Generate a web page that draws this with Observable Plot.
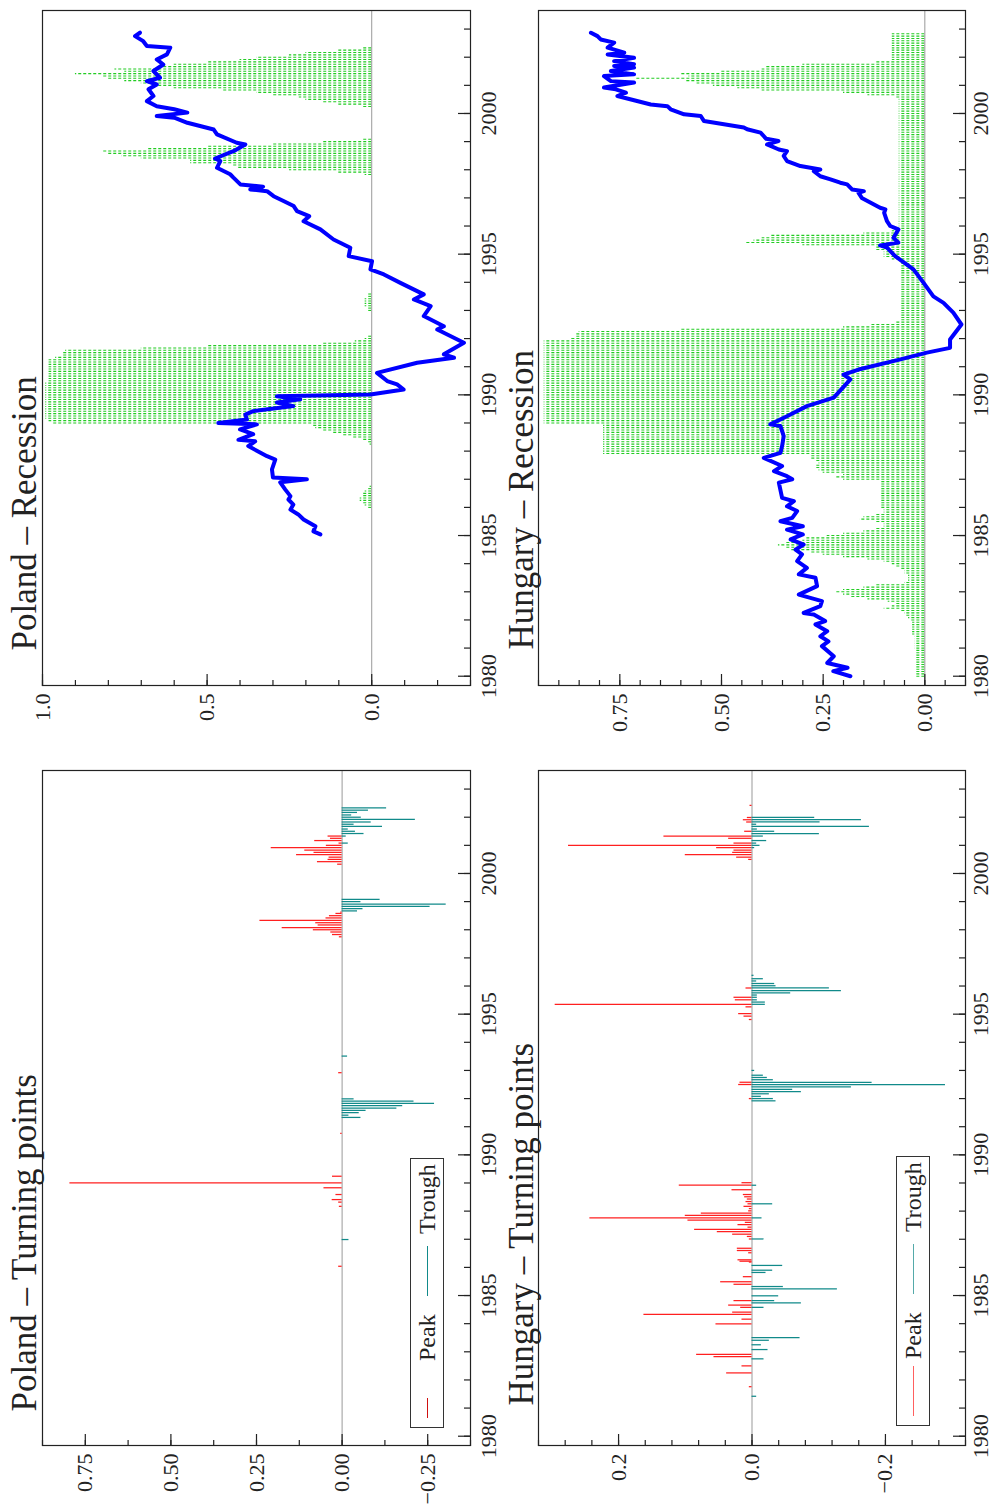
<!DOCTYPE html>
<html><head><meta charset="utf-8">
<script src="https://cdn.jsdelivr.net/npm/d3@7"></script>
<script src="https://cdn.jsdelivr.net/npm/@observablehq/plot@0.6"></script>
<style>
html,body{margin:0;padding:0;background:#fff;overflow:hidden;width:993px;height:1506px;}
#fig{position:absolute;left:0;top:0;width:1506px;height:993px;transform-origin:0 0;transform:translateY(1506px) rotate(-90deg);font-family:'Liberation Serif',serif;color:#222;}
#fig svg{position:absolute;}
#fig svg text{font-family:'Liberation Serif',serif;}
.legend{position:absolute;border:1.2px solid #333;background:#fff;box-sizing:border-box;height:34px;width:270px;}
.legend .sw{position:absolute;top:16px;height:0;border-top:1.4px solid;}
.legend .lb{position:absolute;top:0;font-size:24px;line-height:32px;white-space:nowrap;}
</style></head><body><div id="fig"></div><script>
// ---------- axes ----------
const yearMinorTicks = d3.range(1980, 2004);
const yearLabels = [1980, 1985, 1990, 1995, 2000];
const titles = ["Poland \u2013 Turning points", "Poland \u2013 Recession", "Hungary \u2013 Turning points", "Hungary \u2013 Recession"];
const legendLabels = ["Peak", "Trough"];

// ---------- Poland turning points ----------
const plPeakT = [1986.04,1988.17,1988.32,1988.41,1988.59,1988.83,1989.0,1989.24,1990.76,1992.92,
  1997.75,1997.83,1997.92,1998.0,1998.08,1998.17,1998.25,1998.33,1998.42,1998.5,1998.58,1998.63,
  2000.33,2000.42,2000.5,2000.58,2000.67,2000.75,2000.83,2000.92,2001.0,2001.08,2001.17,2001.25,2001.33];
const plPeakV = [0.01,0.008,0.01,0.029,0.018,0.053,0.795,0.028,0.004,0.01,
  0.008,0.028,0.033,0.084,0.175,0.07,0.077,0.24,0.047,0.037,0.018,0.004,
  0.013,0.072,0.041,0.038,0.133,0.082,0.109,0.207,0.046,0.009,0.08,0.034,0.041];
const plTroughT = [1986.99,1991.33,1991.41,1991.5,1991.58,1991.66,1991.75,1991.83,1991.91,1991.99,1993.51,
  1998.67,1998.75,1998.83,1998.91,1999.0,1999.08,
  2001.08,2001.33,2001.42,2001.5,2001.58,2001.67,2001.75,2001.83,2001.92,2002.0,2002.08,2002.17,2002.25,2002.33];
const plTroughV = [-0.02,-0.055,-0.02,-0.05,-0.07,-0.16,-0.177,-0.27,-0.21,-0.035,-0.016,
  -0.045,-0.061,-0.257,-0.304,-0.055,-0.111,
  -0.018,-0.012,-0.064,-0.039,-0.018,-0.118,-0.035,-0.085,-0.214,-0.056,-0.028,-0.045,-0.077,-0.13];

// ---------- Hungary turning points ----------
const huPeakT = [1981.76,1982.25,1982.5,1982.83,1982.91,1983.99,1984.16,1984.33,1984.41,1984.58,1984.66,1984.82,
  1985.4,1985.49,1985.67,1986.19,1986.22,1986.27,1986.52,1986.6,1986.68,1987.01,1987.1,1987.18,1987.27,1987.35,
  1987.43,1987.52,1987.6,1987.68,1987.76,1987.85,1987.93,1988.01,1988.09,1988.17,1988.26,1988.34,1988.43,1988.51,
  1988.59,1988.76,1988.92,1989.01,1992.0,1992.5,1992.58,1994.81,1994.93,1995.02,1995.26,1995.35,1995.51,1995.6,
  1995.93,2000.5,2000.58,2000.67,2000.75,2000.83,2000.92,2001.0,2001.08,2001.25,2001.33,2001.5,2001.83,2001.91,2001.99,2002.42];
const huPeakV = [0.004,0.038,0.015,0.057,0.083,0.054,0.015,0.162,0.029,0.017,0.035,0.027,
  0.027,0.047,0.013,0.004,0.018,0.021,0.005,0.022,0.022,0.004,0.007,0.029,0.052,0.086,
  0.006,0.021,0.01,0.096,0.243,0.10,0.076,0.005,0.004,0.012,0.006,0.009,0.007,0.011,
  0.013,0.03,0.109,0.015,0.004,0.02,0.018,0.004,0.012,0.02,0.009,0.295,0.025,0.027,
  0.009,0.005,0.023,0.10,0.029,0.027,0.053,0.275,0.027,0.035,0.132,0.011,0.008,0.013,0.007,0.003];
const huTroughT = [1981.42,1982.75,1983.08,1983.25,1983.41,1983.5,1984.58,1984.74,1984.82,1984.99,1985.24,1985.32,
  1985.82,1985.9,1986.07,1987.01,1987.76,1988.26,1988.92,1991.92,1992.0,1992.08,1992.17,1992.25,1992.33,1992.42,
  1992.5,1992.58,1992.67,1992.75,1992.83,1993.0,1995.35,1995.43,1995.51,1995.6,1995.68,1995.76,1995.84,1995.93,
  1996.01,1996.09,1996.18,1996.26,1996.38,2000.92,2001.0,2001.08,2001.17,2001.33,2001.42,2001.5,2001.58,2001.67,
  2001.75,2001.83,2001.91,2001.99];
const huTroughV = [-0.007,-0.018,-0.024,-0.014,-0.026,-0.072,-0.018,-0.074,-0.034,-0.04,-0.128,-0.047,
  -0.021,-0.031,-0.046,-0.018,-0.015,-0.031,-0.007,-0.036,-0.032,-0.014,-0.026,-0.074,-0.061,-0.149,
  -0.29,-0.18,-0.032,-0.023,-0.017,-0.004,-0.02,-0.02,-0.008,-0.008,-0.008,-0.058,-0.134,-0.116,
  -0.036,-0.034,-0.007,-0.017,-0.003,-0.004,-0.012,-0.007,-0.022,-0.017,-0.101,-0.034,-0.008,-0.176,
  -0.007,-0.102,-0.164,-0.094];

// ---------- Poland recession ----------
const plProbStart = 1985; // monthly
const plProb = [
  0,0,0,0,0,0,0,0,0,0,0,0,
  0.01,0.02,0.03,0.035,0.035,0.03,0.025,0.02,0.01,0.005,0,0,
  0,0,0,0,0,0,0,0,0,0,0,0,
  0,0,0,0.005,0.01,0.03,0.06,0.09,0.12,0.15,0.17,0.18,
  0.97,0.98,0.99,0.99,0.99,0.99,0.99,0.99,0.99,0.99,0.99,0.99,
  0.99,0.99,0.99,0.99,0.99,0.99,0.98,0.98,0.98,0.98,0.98,0.98,
  0.98,0.98,0.98,0.98,0.96,0.94,0.94,0.93,0.7,0.5,0.15,0.05,
  0.02,0.01,0,0,0,0,0,0,0,0,0,0,
  0.01,0.015,0.02,0.02,0.02,0.02,0.015,0.01,0,0,0,0,
  0,0,0,0,0,0,0,0,0,0,0,0,
  0,0,0,0,0,0,0,0,0,0,0,0,
  0,0,0,0,0,0,0,0,0,0,0,0,
  0,0,0,0,0,0,0,0,0,0,0.02,0.1,
  0.25,0.41,0.42,0.55,0.55,0.7,0.76,0.8,0.82,0.68,0.5,0.3,
  0.15,0.03,0,0,0,0,0,0,0,0,0,0,
  0,0,0,0.03,0.1,0.15,0.2,0.22,0.3,0.35,0.45,0.6,
  0.66,0.7,0.75,0.8,0.82,0.9,0.75,0.78,0.65,0.6,0.5,0.4,
  0.35,0.25,0.2,0.1,0.03,0,0,0,0,0,0
];
const plLineT = [1985.04,1985.15,1985.33,1985.57,1985.75,1985.92,1986.1,1986.28,1986.4,1986.64,1986.89,1987.0,1987.06,
  1987.35,1987.7,1987.82,1988.18,1988.35,1988.4,1988.6,1988.77,1988.95,1989.0,1989.12,1989.3,1989.42,1989.6,1989.73,
  1989.84,1989.95,1990.01,1990.19,1990.37,1990.49,1990.78,1991.14,1991.32,1991.44,1991.85,1992.32,1992.44,1992.8,
  1993.15,1993.39,1993.57,1993.98,1994.28,1994.46,1994.75,1994.93,1995.23,1995.52,1995.88,1996.17,1996.35,1996.53,
  1996.71,1996.89,1997.06,1997.24,1997.3,1997.4,1997.48,1997.72,1997.84,1998.07,1998.31,1998.4,1998.66,1998.9,
  1998.96,1999.26,1999.43,1999.67,1999.85,1999.91,2000.03,2000.15,2000.26,2000.44,2000.62,2000.86,2001.03,2001.15,
  2001.27,2001.51,2001.74,2001.92,2002.1,2002.34,2002.4,2002.57,2002.75,2002.87];
const plLineV = [0.156,0.177,0.171,0.207,0.223,0.247,0.238,0.253,0.247,0.263,0.278,0.197,0.30,
  0.303,0.293,0.318,0.375,0.354,0.405,0.36,0.40,0.349,0.466,0.379,0.384,0.36,0.238,0.288,
  0.217,0.288,0.004,-0.097,-0.077,-0.047,-0.016,-0.138,-0.25,-0.219,-0.28,-0.199,-0.219,-0.158,
  -0.179,-0.128,-0.158,-0.087,-0.037,0.004,-0.001,0.07,0.065,0.116,0.156,0.207,0.19,0.227,
  0.237,0.268,0.298,0.318,0.369,0.33,0.399,0.42,0.43,0.47,0.46,0.476,0.42,0.384,
  0.41,0.47,0.48,0.56,0.60,0.653,0.56,0.60,0.653,0.683,0.663,0.678,0.653,0.683,
  0.643,0.663,0.633,0.653,0.622,0.612,0.683,0.694,0.719,0.704];

// ---------- Hungary recession ----------
const huProbStart = 1980; // monthly
const huProb = [
  0.02,0.02,0.02,0.02,0.02,0.02,0.02,0.02,0.02,0.02,0.02,0.02,
  0.025,0.025,0.025,0.025,0.025,0.025,0.03,0.03,0.03,0.03,0.03,0.03,
  0.035,0.04,0.045,0.05,0.06,0.1,0.08,0.07,0.09,0.14,0.18,0.2,
  0.22,0.2,0.15,0.12,0.05,0.04,0.04,0.04,0.05,0.05,0.06,0.07,
  0.08,0.1,0.14,0.2,0.25,0.28,0.33,0.34,0.36,0.34,0.3,0.29,
  0.24,0.2,0.15,0.12,0.1,0.1,0.12,0.16,0.15,0.12,0.1,0.1,
  0.11,0.11,0.11,0.11,0.11,0.11,0.11,0.11,0.11,0.11,0.11,0.11,
  0.2,0.22,0.2,0.25,0.26,0.27,0.27,0.26,0.27,0.28,0.28,0.79,
  0.79,0.79,0.79,0.79,0.79,0.79,0.79,0.79,0.79,0.79,0.79,0.79,
  0.936,0.936,0.936,0.936,0.936,0.936,0.936,0.936,0.936,0.936,0.936,0.936,
  0.936,0.936,0.936,0.936,0.936,0.936,0.936,0.936,0.936,0.936,0.936,0.936,
  0.936,0.936,0.936,0.936,0.936,0.936,0.936,0.936,0.936,0.936,0.936,0.936,
  0.87,0.86,0.86,0.85,0.6,0.2,0.13,0.07,0.06,0.06,0.06,0.06,
  0.06,0.06,0.06,0.06,0.06,0.06,0.06,0.06,0.06,0.06,0.06,0.06,
  0.06,0.06,0.06,0.06,0.06,0.06,0.06,0.06,0.06,0.06,0.08,0.1,
  0.1,0.1,0.12,0.12,0.3,0.44,0.42,0.4,0.38,0.15,0.08,0.07,
  0.063,0.063,0.063,0.063,0.063,0.063,0.063,0.063,0.063,0.063,0.063,0.063,
  0.063,0.063,0.063,0.063,0.063,0.063,0.063,0.063,0.063,0.063,0.063,0.063,
  0.063,0.063,0.063,0.063,0.063,0.063,0.063,0.063,0.063,0.063,0.063,0.063,
  0.063,0.063,0.063,0.063,0.063,0.063,0.063,0.063,0.063,0.063,0.063,0.063,
  0.063,0.063,0.063,0.063,0.063,0.063,0.063,0.07,0.14,0.2,0.4,0.46,
  0.52,0.56,0.59,0.71,0.58,0.6,0.5,0.4,0.39,0.3,0.12,0.08,
  0.08,0.08,0.08,0.08,0.08,0.08,0.08,0.08,0.08,0.08,0.08
];
const huLineT = [1980.0,1980.18,1980.3,1980.47,1980.71,1981.07,1981.24,1981.42,1981.6,1981.84,1981.96,1982.19,1982.25,
  1982.49,1982.67,1982.9,1983.2,1983.5,1983.62,1983.85,1984.09,1984.33,1984.5,1984.68,1984.86,1985.04,1985.21,1985.33,
  1985.51,1985.63,1985.87,1986.04,1986.22,1986.34,1986.88,1987.0,1987.11,1987.29,1987.47,1987.76,1987.94,1988.18,
  1988.53,1988.89,1988.95,1989.24,1989.6,1989.9,1990.55,1990.72,1990.9,1991.26,1991.5,1991.67,1991.97,1992.5,
  1992.92,1993.27,1993.5,1993.98,1994.46,
  1994.93,1995.23,1995.31,1995.41,1995.58,1995.88,1996.0,1996.17,1996.47,1996.59,1996.65,1997.0,1997.18,1997.24,
  1997.3,1997.48,1997.54,1997.66,1997.77,1997.95,1998.01,1998.13,1998.31,1998.49,1998.66,1998.72,1998.9,1999.02,
  1999.1,1999.32,1999.44,1999.5,1999.73,1999.91,1999.97,2000.15,2000.26,2000.32,2000.62,2000.74,2000.86,2000.92,
  2001.1,2001.15,2001.33,2001.39,2001.51,2001.63,2001.69,2001.75,2001.86,2001.98,2002.1,2002.16,2002.34,2002.52,
  2002.63,2002.75,2002.87];
const huLineV = [0.183,0.225,0.19,0.24,0.224,0.253,0.237,0.257,0.24,0.269,0.245,0.273,0.298,
  0.257,0.253,0.31,0.265,0.269,0.31,0.29,0.314,0.302,0.318,0.298,0.33,0.30,0.339,0.30,
  0.355,0.326,0.314,0.339,0.322,0.351,0.359,0.326,0.339,0.371,0.351,0.396,0.355,0.351,
  0.347,0.355,0.38,0.339,0.29,0.224,0.183,0.20,0.163,0.06,-0.005,-0.062,-0.062,-0.09,
  -0.07,-0.046,-0.021,0.003,0.028,
  0.073,0.093,0.11,0.065,0.077,0.065,0.085,0.093,0.10,0.097,0.11,0.155,0.163,0.15,
  0.179,0.191,0.208,0.232,0.257,0.273,0.257,0.306,0.339,0.347,0.339,0.359,0.388,0.36,
  0.39,0.404,0.437,0.445,0.543,0.551,0.592,0.625,0.633,0.674,0.756,0.735,0.76,0.789,
  0.715,0.772,0.789,0.715,0.772,0.715,0.764,0.715,0.764,0.715,0.78,0.739,0.78,0.764,
  0.797,0.805,0.821];

// ---------- build ----------
const fig = document.getElementById("fig");
const xDomain = [1979.67, 2003.66];
const zip = (T, V) => T.map((t, i) => ({t, v: V[i]}));
const monthly = (start, V) => V.map((v, i) => ({t: start + i / 12, v}));
const INK = "#222";
const SERIF = "Liberation Serif";

function panel(o) {
  const marks = [
    ...o.marks,
    Plot.frame({stroke: INK, strokeWidth: 1.2}),
    Plot.axisX({anchor: "bottom", ticks: yearMinorTicks, tickSize: -6, tickFormat: () => "", label: null, stroke: INK, strokeWidth: 1.2}),
    Plot.axisX({anchor: "bottom", ticks: yearLabels, tickSize: -12, tickFormat: () => "", label: null, stroke: INK, strokeWidth: 1.2}),
    Plot.axisX({anchor: "bottom", ticks: yearLabels, tickSize: 0, tickPadding: o.xPad, tickFormat: d => String(d), label: null, fill: INK, fontSize: 22, fontFamily: SERIF}),
    Plot.axisY({anchor: "left", ticks: o.yMinor, tickSize: -6, tickFormat: () => "", label: null, stroke: INK, strokeWidth: 1.2}),
    Plot.axisY({anchor: "left", ticks: o.yMajor, tickSize: -12, tickFormat: () => "", label: null, stroke: INK, strokeWidth: 1.2}),
    Plot.axisY({anchor: "left", ticks: o.yMajor, tickSize: 0, tickPadding: 8, tickFormat: o.yFmt, label: null, fill: INK, fontSize: 22, fontFamily: SERIF}),
    Plot.text([o.title], {frameAnchor: "top-left", text: d => d, dx: o.titleDx, dy: o.titleDy, lineAnchor: "bottom", textAnchor: "start", fontSize: 35, fontFamily: SERIF, fill: INK})
  ];
  const svg = Plot.plot({
    width: o.width, height: o.height,
    marginLeft: o.mL, marginRight: o.mR, marginTop: o.mT, marginBottom: o.mB,
    x: {domain: xDomain, label: null},
    y: {domain: o.yDomain, label: null},
    style: {fontFamily: "'Liberation Serif', serif", fontSize: "22px", background: "transparent", color: INK, overflow: "visible"},
    marks
  });
  svg.style.left = o.left + "px";
  svg.style.top = o.top + "px";
  fig.appendChild(svg);
}

function tpMarks(peaks, troughs) {
  return [
    Plot.ruleY([0], {stroke: "#999", strokeWidth: 1}),
    Plot.ruleX(peaks, {x: "t", y1: 0, y2: "v", stroke: "#ff2020", strokeWidth: 1.25}),
    Plot.ruleX(troughs, {x: "t", y1: 0, y2: "v", stroke: "#118a8a", strokeWidth: 1.25})
  ];
}
function recMarks(prob, line) {
  return [
    Plot.ruleX(prob.filter(d => d.v > 0), {x: "t", y1: 0, y2: "v", stroke: "#22cc22", strokeWidth: 1.1, strokeDasharray: "3,2"}),
    Plot.ruleY([0], {stroke: "#999", strokeWidth: 1}),
    Plot.line(line, {x: "t", y: "v", stroke: "#0000ff", strokeWidth: 4, strokeLinejoin: "round", strokeLinecap: "round"})
  ];
}

const fmt2 = d3.format(".2f"), fmt1 = d3.format(".1f");

// Poland - Turning points (landscape top-left)
panel({left: 0, top: 0, width: 753, height: 496, mL: 60, mR: 18, mT: 42, mB: 26, xPad: 10,
  yDomain: [-0.375, 0.875], yMinor: d3.range(-0.375, 0.876, 0.125), yMajor: [-0.25, 0, 0.25, 0.5, 0.75], yFmt: fmt2,
  title: titles[0], titleDx: 34, titleDy: -7,
  marks: tpMarks(zip(plPeakT, plPeakV), zip(plTroughT, plTroughV))});
// Poland - Recession (landscape top-right)
panel({left: 753, top: 0, width: 753, height: 496, mL: 67, mR: 11, mT: 42, mB: 26, xPad: 10,
  yDomain: [-0.3, 1.0], yMinor: d3.range(-0.3, 1.001, 0.1), yMajor: [0, 0.5, 1.0], yFmt: fmt1,
  title: titles[1], titleDx: 35, titleDy: -7,
  marks: recMarks(monthly(plProbStart, plProb), zip(plLineT, plLineV))});
// Hungary - Turning points
panel({left: 0, top: 496, width: 753, height: 497, mL: 60, mR: 18, mT: 42, mB: 28, xPad: 7,
  yDomain: [-0.32, 0.32], yMinor: d3.range(-0.32, 0.321, 0.04), yMajor: [-0.2, 0, 0.2], yFmt: fmt1,
  title: titles[2], titleDx: 40, titleDy: -6,
  marks: tpMarks(zip(huPeakT, huPeakV), zip(huTroughT, huTroughV))});
// Hungary - Recession
panel({left: 753, top: 496, width: 753, height: 497, mL: 67, mR: 11, mT: 42, mB: 28, xPad: 7,
  yDomain: [-0.1, 0.95], yMinor: d3.range(-0.1, 0.951, 0.05), yMajor: [0, 0.25, 0.5, 0.75], yFmt: fmt2,
  title: titles[3], titleDx: 36, titleDy: -6,
  marks: recMarks(monthly(huProbStart, huProb), zip(huLineT, huLineV))});

// legends
function legend(left, top, redLen, redColor, tealColor) {
  const box = document.createElement("div");
  box.className = "legend";
  box.style.left = left + "px"; box.style.top = top + "px";
  const items = [[9, redLen, redColor, 66, legendLabels[0]], [131, 50, tealColor, 193, legendLabels[1]]];
  for (const [x, w, c, tx, label] of items) {
    const sw = document.createElement("div");
    sw.className = "sw"; sw.style.left = x + "px"; sw.style.width = w + "px"; sw.style.borderColor = c;
    box.appendChild(sw);
    const lb = document.createElement("div");
    lb.className = "lb"; lb.style.left = tx + "px"; lb.textContent = label;
    box.appendChild(lb);
  }
  fig.appendChild(box);
}
legend(78, 410, 20, "#d01010", "#118a8a");
legend(80, 896, 50, "#ff6060", "#55aaaa");
</script></body></html>
